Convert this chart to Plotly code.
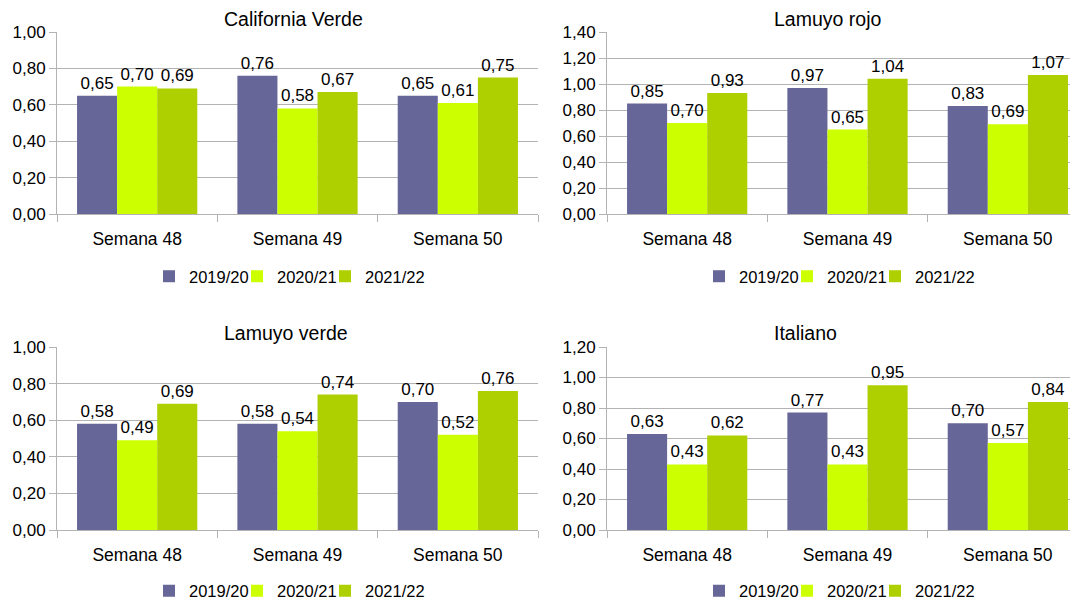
import plotly.graph_objects as go

VW, VH = 1078, 603   # browser viewport
OFF = 8              # default body margin of the page
W, H = VW - OFF, VH - OFF

categories = ["Semana 48", "Semana 49", "Semana 50"]
series_names = ["2019/20", "2020/21", "2021/22"]
series_colors = ["#666699", "#ccff00", "#aecf00"]

titles = ["California Verde", "Lamuyo rojo", "Lamuyo verde", "Italiano"]

california_verde = [
    [0.65, 0.76, 0.65],
    [0.70, 0.58, 0.61],
    [0.69, 0.67, 0.75],
]
lamuyo_rojo = [
    [0.85, 0.97, 0.83],
    [0.70, 0.65, 0.69],
    [0.93, 1.04, 1.07],
]
lamuyo_verde = [
    [0.58, 0.58, 0.70],
    [0.49, 0.54, 0.52],
    [0.69, 0.74, 0.76],
]
italiano = [
    [0.63, 0.77, 0.70],
    [0.43, 0.43, 0.57],
    [0.62, 0.95, 0.84],
]
y_max = [1.0, 1.4, 1.0, 1.2]

panels = [california_verde, lamuyo_rojo, lamuyo_verde, italiano]

FONT = "Liberation Sans"
GRID = "#b3b3b3"

# pixel layout (viewport coords) of each panel: (x0, x1, y_top, y_bottom)
px_boxes = [
    (57, 538, 32, 214),
    (607, 1088, 32, 214),
    (57, 538, 347, 530),
    (607, 1088, 347, 530),
]
title_pos = [(223, 18.5), (773, 18.5), (223, 333), (773, 333)]
legend_pos = [(149, 276.5), (699, 276.5), (149, 591), (699, 591)]  # left edge, middle


def fx(v):
    return (v - OFF) / W


def fy(v):
    return 1 - (v - OFF) / H


fig = go.Figure()
layout = dict(
    width=W, height=H,
    margin=dict(l=0, r=0, t=0, b=0, pad=0, autoexpand=False),
    paper_bgcolor="white", plot_bgcolor="white",
    font=dict(family=FONT, size=17, color="#000000"),
    separators=",.",
    barmode="group", bargap=0.25, bargroupgap=0,
    annotations=[],
)

for i, data in enumerate(panels):
    n = "" if i == 0 else str(i + 1)
    leg = "legend" + n
    for s in range(3):
        fig.add_trace(go.Bar(
            x=categories, y=data[s], name=series_names[s],
            marker=dict(color=series_colors[s], line=dict(width=0)),
            text=data[s], texttemplate="%{y:.2f}", textposition="outside",
            textfont=dict(family=FONT, size=17, color="#000000"),
            cliponaxis=False, constraintext="none",
            xaxis="x" + n, yaxis="y" + n, legend=leg,
            hoverinfo="skip",
        ))
    # invisible spacer entry so the last legend label is not clipped
    fig.add_trace(go.Scatter(
        x=[None], y=[None], mode="markers", name=" ",
        marker=dict(color="rgba(0,0,0,0)", size=1),
        xaxis="x" + n, yaxis="y" + n, legend=leg, hoverinfo="skip",
    ))
    x0, x1, yt, yb = px_boxes[i]
    px_per_cat = (x1 - x0) / 3.0
    x1c = min(x1, VW)
    rng_end = 2.5 - (x1 - x1c) / px_per_cat
    layout["xaxis" + n] = dict(
        domain=[fx(x0), min(1.0, fx(x1c))], anchor="y" + n,
        type="category", range=[-0.5, rng_end], automargin=False,
        showline=True, linecolor=GRID, linewidth=1,
        ticks="outside", tickson="boundaries", ticklen=7, tickcolor=GRID,
        ticklabelstandoff=9,
        showgrid=False, tickfont=dict(size=17.5), fixedrange=True,
    )
    layout["yaxis" + n] = dict(
        domain=[fy(yb), fy(yt)], anchor="x" + n, automargin=False,
        range=[0, y_max[i]], dtick=0.2, tick0=0, tickformat=".2f",
        showline=True, linecolor=GRID, linewidth=1,
        ticks="outside", ticklen=7, tickcolor=GRID,
        showgrid=True, gridcolor=GRID, gridwidth=1,
        zeroline=False, tickfont=dict(size=17), fixedrange=True,
    )
    lx, ly = legend_pos[i]
    layout[leg] = dict(
        orientation="h", x=fx(lx), y=fy(ly),
        xanchor="left", yanchor="middle",
        font=dict(size=16.5), itemwidth=30, bgcolor="rgba(0,0,0,0)",
        traceorder="normal", entrywidth=43, entrywidthmode="pixels",
    )
    tx, ty = title_pos[i]
    layout["annotations"].append(dict(
        text=titles[i], x=fx(tx), y=fy(ty), xref="paper", yref="paper",
        xanchor="left", yanchor="middle", showarrow=False, borderpad=0,
        font=dict(family=FONT, size=19.5, color="#000000"),
    ))

fig.update_layout(**layout)
fig.write_html("out.html")
